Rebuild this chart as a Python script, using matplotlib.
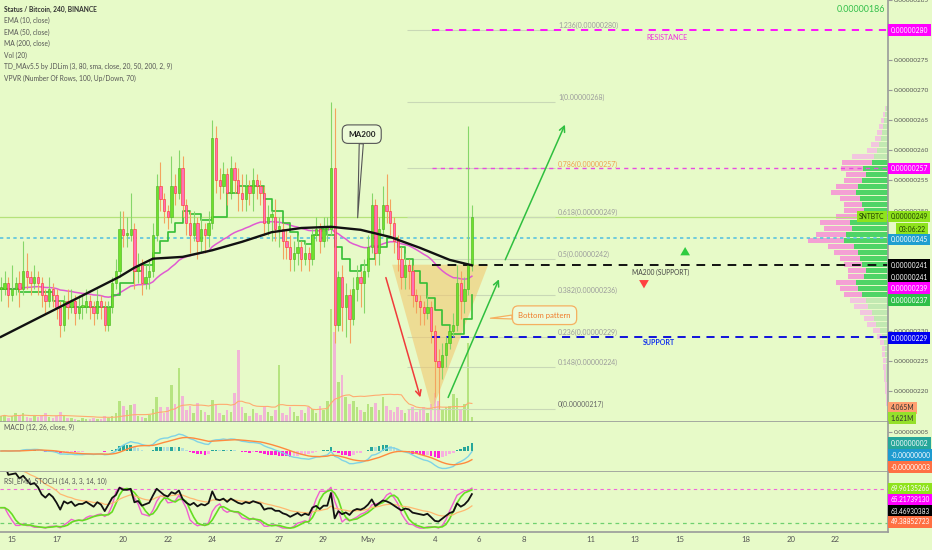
import numpy as np
import pandas as pd
import matplotlib
matplotlib.use("Agg")
import matplotlib.pyplot as plt
from matplotlib.patches import Polygon

plt.rcParams['font.family'] = ['Lato', 'DejaVu Sans']

# ---------- data (prices in satoshi, 4h bars) ----------
start = pd.Timestamp("2019-04-14 12:00")

closes = [237, 238, 236, 237, 238, 237, 240, 239, 238, 239,
          238, 236, 235, 237, 236, 234, 231, 235, 234, 235,
          233, 234, 234, 235, 234, 233, 235, 234, 231, 234,
          238, 240, 247, 246, 246, 247, 240, 241, 238, 239,
          240, 246, 254, 252, 250, 249, 254, 253, 257, 251,
          248, 246, 248, 245, 247, 246, 248, 262, 255, 254,
          256, 253, 257, 255, 253, 252, 254, 253, 255, 254,
          253, 248, 249, 249, 247, 247, 245, 244, 242, 243,
          244, 242, 243, 242, 246, 247, 245, 247, 247, 257,
          231, 239, 234, 236, 232, 237, 239, 238, 240, 244,
          251, 243, 247, 251, 250, 248, 245, 242, 239, 241,
          240, 236, 235, 234, 233, 234, 230, 225, 224, 226,
          228, 230, 231, 238, 235, 237, 241, 249]

highs = [239, 240, 239, 241, 239, 240, 245, 243, 240, 241,
         240, 239, 237, 239, 238, 237, 235, 236, 237, 237,
         236, 236, 236, 237, 236, 235, 237, 236, 235, 235,
         239, 242, 250, 250, 249, 253, 248, 243, 242, 241,
         242, 248, 256, 258, 253, 251, 259, 256, 260, 259,
         252, 250, 250, 249, 249, 248, 250, 265, 264, 257,
         258, 257, 259, 258, 257, 256, 256, 255, 257, 256,
         255, 254, 251, 250, 252, 249, 248, 247, 246, 245,
         246, 245, 245, 244, 247, 249, 248, 249, 249, 268,
         267, 240, 241, 238, 237, 239, 241, 240, 242, 246,
         253, 252, 249, 254, 256, 252, 249, 246, 244, 243,
         242, 241, 237, 236, 235, 236, 235, 231, 227, 228,
         229, 231, 233, 241, 240, 239, 264, 251]

lows = [235, 236, 234, 235, 236, 234, 236, 237, 236, 237,
        236, 234, 233, 234, 234, 232, 229, 230, 232, 233,
        231, 232, 232, 233, 232, 231, 232, 232, 230, 230,
        233, 237, 239, 244, 244, 245, 237, 238, 236, 237,
        237, 239, 245, 250, 248, 247, 248, 251, 252, 249,
        246, 243, 245, 242, 243, 243, 244, 247, 253, 252,
        253, 251, 252, 253, 250, 250, 250, 251, 250, 252,
        251, 246, 246, 245, 245, 244, 242, 242, 240, 240,
        241, 240, 241, 240, 241, 245, 243, 244, 245, 246,
        228, 230, 230, 229, 228, 231, 235, 234, 233, 239,
        243, 241, 241, 246, 248, 246, 243, 240, 237, 237,
        237, 234, 233, 231, 231, 232, 228, 219, 217, 222,
        224, 227, 229, 230, 232, 233, 236, 240]

# volume in millions
volumes = [2.0, 2.5, 1.5, 2.0, 3.0, 2.2, 3.2, 1.8, 1.5, 2.4,
           1.8, 2.0, 3.0, 1.6, 1.4, 2.2, 3.4, 2.0, 1.2, 1.5,
           1.0, 0.8, 1.2, 0.9, 1.1, 1.3, 1.0, 0.9, 2.0, 1.4,
           2.2, 3.0, 7.0, 5.5, 4.0, 5.8, 6.0, 2.0, 1.8, 1.5,
           2.5, 4.5, 8.5, 5.0, 3.0, 5.2, 12.5, 6.0, 18.5, 9.0,
           4.0, 5.5, 3.0, 6.5, 4.0, 3.5, 2.5, 7.5, 6.0, 3.0,
           2.5, 4.0, 3.5, 10.0, 24.5, 5.0, 3.0, 2.0, 4.5, 3.0,
           2.5, 5.0, 3.5, 2.0, 4.0, 19.5, 3.0, 2.5, 5.0, 3.5,
           2.0, 4.0, 3.0, 5.0, 4.5, 3.0, 5.5, 4.0, 7.0, 38.5,
           30.5, 13.5, 16.0, 8.5, 6.0, 7.0, 5.0, 4.0, 3.5, 6.0,
           5.0, 6.5, 4.0, 8.5, 5.5, 4.0, 3.5, 5.0, 4.0, 3.0,
           4.5, 5.0, 3.5, 4.0, 5.0, 3.0, 6.0, 10.0, 7.0, 4.0,
           5.0, 5.5, 9.5, 8.0, 4.5, 6.0, 27.0, 1.6]

# MA200 (bar index, value)
ma200_bars = [0, 8, 16, 24, 32, 36, 41, 49, 57, 65, 73, 81, 89, 97, 105, 113, 121, 127]
ma200_vals = [229, 231.5, 234, 236.5, 239, 240.5, 242, 242.3, 243.4, 244.8,
              246.4, 247.1, 247.3, 246.8, 245.6, 243.8, 241.8, 240.9]

# TD_MA stepped line (bar index, value)
td_bars = [0, 5, 14, 17, 30, 32, 36, 38, 41, 43, 45, 47, 49, 51, 54, 57, 61, 64,
           71, 73, 76, 78, 80, 82, 84, 86, 88, 90, 92, 94, 97, 99, 101, 104, 107,
           109, 111, 113, 115, 117, 119, 121, 125, 127]
td_vals = [237, 236.5, 235, 234, 236, 238, 240, 241, 243, 245, 246.5, 248, 250,
           249.5, 248.5, 249, 253, 254, 252, 250, 248, 246.5, 245, 244.5, 246,
           247, 246, 244, 242, 240, 241, 242, 244, 245.5, 244, 242, 240, 238,
           235.5, 233.5, 231, 229.5, 232, 236]

# fibonacci retracement
fib_levels = ["1.236", "1", "0.786", "0.618", "0.5", "0.382", "0.236", "0.148", "0"]
fib_prices = [280, 268, 257, 249, 242, 236, 229, 224, 217]

# volume profile rows
vp_price = list(range(267, 217, -1))
vp_up = [2, 3, 4, 5, 6, 7, 9, 11, 14, 16, 25, 22, 26, 30, 32, 28, 26, 24, 30, 38,
         36, 42, 44, 34, 30, 28, 26, 22, 24, 32, 30, 26, 22, 20, 16, 14, 12, 8, 6, 4,
         3, 3, 2, 2, 2, 2, 1, 1, 1, 1]
vp_down = [1, 2, 3, 4, 5, 6, 8, 10, 22, 30, 22, 20, 18, 22, 25, 20, 18, 20, 22, 30,
           28, 30, 36, 26, 24, 20, 18, 18, 16, 20, 18, 18, 16, 14, 12, 10, 9, 7, 5, 4,
           3, 3, 3, 3, 2, 2, 2, 2, 1, 1]
va_low, va_high = 236, 258

tick_dates = ["2019-04-15", "2019-04-17", "2019-04-20", "2019-04-22", "2019-04-24",
              "2019-04-27", "2019-04-29", "2019-05-01", "2019-05-04", "2019-05-06",
              "2019-05-08", "2019-05-11", "2019-05-13", "2019-05-15", "2019-05-18",
              "2019-05-20", "2019-05-22"]
tick_labels = ["15", "17", "20", "22", "24", "27", "29", "May", "4", "6", "8",
               "11", "13", "15", "18", "20", "22"]

legend_lines = ["Status / Bitcoin, 240, BINANCE", "EMA (10, close)", "EMA (50, close)",
                "MA (200, close)", "Vol (20)",
                "TD_MAv5.5 by JDLim (3, 80, sma, close, 20, 50, 200, 2, 9)",
                "VPVR (Number Of Rows, 100, Up/Down, 70)"]

# ---------- derived series ----------
BG = '#e7fac8'
x = np.arange(len(closes))
c = np.array(closes, float)
o = np.array([closes[0]] + closes[:-1], float)
h = np.array(highs, float)
l = np.array(lows, float)
cs = pd.Series(c)

ema50 = cs.ewm(span=50, adjust=False).mean()
vol = pd.Series(volumes)
vol_ma = vol.rolling(20, min_periods=1).mean()

ema12 = cs.ewm(span=12, adjust=False).mean()
ema26 = cs.ewm(span=26, adjust=False).mean()
macd = ema12 - ema26
signal = macd.ewm(span=9, adjust=False).mean()
hist = macd - signal
prev = hist.shift(1).fillna(0)
hist_colors = np.where(hist >= 0,
                       np.where(hist >= prev, '#26a69a', '#b2dfdb'),
                       np.where(hist < prev, '#ff21d8', '#f7b0e0'))

delta = cs.diff()
gain = delta.clip(lower=0).ewm(alpha=1/14, adjust=False).mean()
loss = (-delta.clip(upper=0)).ewm(alpha=1/14, adjust=False).mean()
rsi = 100 - 100 / (1 + gain / loss)
rsi_ema = rsi.ewm(span=10, adjust=False).mean()
lo = rsi.rolling(14, min_periods=1).min()
hi = rsi.rolling(14, min_periods=1).max()
stoch = (100 * (rsi - lo) / (hi - lo)).replace([np.inf, -np.inf], np.nan).fillna(50)
k = stoch.rolling(3, min_periods=1).mean()
d = k.rolling(3, min_periods=1).mean()

pos = [(pd.Timestamp(t) - start) / pd.Timedelta(hours=4) for t in tick_dates]

# ---------- figure ----------
W, H = 932, 550
fig = plt.figure(figsize=(W / 100, H / 100), dpi=100, facecolor=BG)
R = 888 / W
ax = fig.add_axes([0, 1 - 422 / H, R, 422 / H])
axm = fig.add_axes([0, 1 - 472 / H, R, 50 / H], sharex=ax)
axr = fig.add_axes([0, 1 - 532 / H, R, 60 / H], sharex=ax)

XMAX = 239.2
ax.set_xlim(-0.24, XMAX)
ax.set_ylim(214.85, 285.0)
ax.patch.set_visible(False)

# volume (behind candles)
axv = ax.twinx()
axv.set_zorder(ax.get_zorder() - 1)
axv.set_ylim(0, 143.5)
axv.axis('off')
up = c >= o
axv.bar(x[up], vol[up], width=0.7, color='#b6e480')
axv.bar(x[~up], vol[~up], width=0.7, color='#f1b5d6')
axv.plot(x, vol_ma, color='#ffab70', lw=0.8)

# volume profile
axp = ax.twiny()
axp.set_zorder(ax.get_zorder() - 1)
axp.set_xlim(888, 0)
axp.axis('off')
for p, u, dn in zip(vp_price, vp_up, vp_down):
    inside = va_low <= p <= va_high
    axp.barh(p, u, left=0, height=0.85, color='#4fd466' if inside else '#c2e9b2')
    axp.barh(p, dn, left=u, height=0.85, color='#f4a0d4' if inside else '#f2c6df')

# panel styling (after twins, which reset tick sides)
for a in (axm, axr):
    a.set_facecolor(BG)
for a in (ax, axm, axr):
    for s in ('left', 'top'):
        a.spines[s].set_visible(False)
    for s in ('right', 'bottom'):
        a.spines[s].set_color('#9a9a9a')
        a.spines[s].set_linewidth(1.2)
    a.yaxis.tick_right()
    a.tick_params(axis='y', left=False, labelleft=False, right=True, labelright=True,
                  labelsize=4.6, colors='#9a9a9a', labelcolor='#555555', length=3, pad=1.5)
    a.tick_params(axis='x', length=0)
ax.tick_params(labelbottom=False)
axm.tick_params(labelbottom=False)

# full-width lines
ax.axhline(249, color='#b5e27a', lw=0.9, zorder=1)
ax.axhline(245.5, color='#5bc3e0', lw=1.2, ls=(0, (2, 2)), zorder=1)

# fibonacci
ax.hlines(fib_prices, 109.5, 149.4, color='#c9d8b6', lw=0.8, zorder=1)
for lvl, p in zip(fib_levels, fib_prices):
    col = '#f0a050' if lvl == "0.786" else ('#666666' if lvl == "0" else '#9c9c9c')
    ax.text(150.2, p + 0.15, f"{lvl}({p / 1e8:.8f})", fontsize=5.0, color=col,
            va='bottom', ha='left')

# bottom-pattern triangle
ax.add_patch(Polygon([(105.5, 241), (131.4, 241), (116.3, 216.8)],
                     closed=True, fc='#f3c46a', alpha=0.55, ec='none', zorder=1))

# moving averages
ax.plot(x, ema50, color='#e05ad2', lw=1.1, zorder=2)
ax.plot(td_bars, td_vals, color='#35bf35', lw=1.2, drawstyle='steps-post', zorder=2)

# candles
wick_c = np.where(up, '#86d66a', '#f3a35e')
ax.vlines(x, l, h, colors=wick_c, lw=0.8, zorder=3)
body_b = np.minimum(o, c)
body_h = np.maximum(np.abs(c - o), 0.35)
ax.bar(x[up], body_h[up], bottom=body_b[up], width=0.62, color='#6fe02c',
       edgecolor='#43b51a', lw=0.4, zorder=4)
ax.bar(x[~up], body_h[~up], bottom=body_b[~up], width=0.62, color='#ff6fb8',
       edgecolor='#ff2d2d', lw=0.4, zorder=4)

ax.plot(ma200_bars, ma200_vals, color='#111111', lw=1.7, zorder=5)

# horizontal levels
ax.hlines(280, 116.3, XMAX, colors='#ff00ff', lw=1.3, linestyles=(0, (4, 3.5)), zorder=2)
ax.hlines(257, 116.3, XMAX, colors='#e84ce0', lw=1.0, linestyles=(0, (3, 3)), zorder=2)
ax.hlines(241, 116.3, XMAX, colors='#111111', lw=1.4, linestyles=(0, (4.5, 3.5)), zorder=2)
ax.hlines(229, 116.3, XMAX, colors='#0000dd', lw=1.3, linestyles=(0, (4.5, 3.5)), zorder=2)
ax.text(179.6, 278.8, "RESISTANCE", color='#ee33dd', fontsize=5.1, ha='center', va='center')
ax.text(177.8, 239.7, "MA200 (SUPPORT)", color='#444444', fontsize=4.8, ha='center', va='center')
ax.text(177.5, 228.0, "SUPPORT", color='#1030ee', fontsize=5.0, ha='center', va='center',
        fontweight='bold')

# arrows
ax.annotate('', xy=(113.3, 218.5), xytext=(103.6, 239.3),
            arrowprops=dict(arrowstyle='->', color='#f03a3a', lw=1.1))
ax.annotate('', xy=(134.6, 239.0), xytext=(120.3, 218.5),
            arrowprops=dict(arrowstyle='->', color='#2fbf3f', lw=1.1))
ax.annotate('', xy=(152.4, 264.7), xytext=(135.7, 241.4),
            arrowprops=dict(arrowstyle='->', color='#2fbf3f', lw=1.1))
ax.annotate('', xy=(184.5, 244.4), xytext=(184.5, 242.3),
            arrowprops=dict(arrowstyle='simple,head_width=0.7,head_length=0.6,tail_width=0.3',
                            color='#2ecc40', lw=0))
ax.annotate('', xy=(173.4, 236.6), xytext=(173.4, 238.7),
            arrowprops=dict(arrowstyle='simple,head_width=0.7,head_length=0.6,tail_width=0.3',
                            color='#ff4040', lw=0))

# callouts
ax.annotate("MA200", xy=(96.2, 248.8), xytext=(97.3, 262.7), ha='center', va='center',
            fontsize=5.9, fontweight='bold', color='#222222', zorder=6,
            bbox=dict(boxstyle='round,pad=0.7', fc='#edfbd8', ec='#555555', lw=0.8),
            arrowprops=dict(arrowstyle='wedge,tail_width=0.5', fc='#edfbd8', ec='#555555',
                            lw=0.8, shrinkA=0, shrinkB=0))
ax.annotate("Bottom pattern", xy=(132.0, 232.1), xytext=(146.6, 232.6), ha='center',
            va='center', fontsize=5.6, color='#f07a2a', zorder=6,
            bbox=dict(boxstyle='round,pad=0.75', fc='#edfbd8', ec='#f5b060', lw=0.9),
            arrowprops=dict(arrowstyle='wedge,tail_width=0.5', fc='#edfbd8', ec='#f5b060',
                            lw=0.9, shrinkA=0, shrinkB=0))

# price axis
yt = np.arange(220, 286, 5)
ax.set_yticks(yt)
ax.set_yticklabels([f"{v / 1e8:.8f}" for v in yt])


def tag(a, y, text, bg, fg='white', xa=1.003, ha='left', size=4.9):
    a.text(xa, y, text, transform=a.get_yaxis_transform(), fontsize=size, color=fg,
           va='center', ha=ha, clip_on=False, zorder=10,
           bbox=dict(boxstyle='square,pad=0.35', fc=bg, ec='none'))


tag(ax, 280, "0.00000280", '#ff00ff')
tag(ax, 257, "0.00000257", '#ff00ff')
tag(ax, 249, "0.00000249", '#8fe31c', fg='#1e3d00')
tag(ax, 249, "SNTBTC", '#8fe31c', fg='#1e3d00', xa=0.996, ha='right')
tag(ax, 246.9, "03:06:22", '#8fe31c', fg='#1e3d00', xa=1.012)
tag(ax, 245.2, "0.00000245", '#1e9fd0')
tag(ax, 240.9, "0.00000241", '#000000')
tag(ax, 238.95, "0.00000241", '#000000')
tag(ax, 237.1, "0.00000239", '#ff00ff')
tag(ax, 235.1, "0.00000237", '#2fbf48')
tag(ax, 228.8, "0.00000229", '#0000ee')
tag(ax, 217.2, "4.065M", '#ffa070', fg='#333333')
tag(ax, 215.5, "1.621M", '#95e02a', fg='#333333')

# MACD panel
axm.set_ylim(-5.5, 7.6)
axm.bar(x, hist, width=0.7, color=hist_colors)
axm.plot(x, macd, color='#7fd3e6', lw=1.0)
axm.plot(x, signal, color='#ff8a3d', lw=1.0)
axm.set_yticks([5])
axm.set_yticklabels(["0.00000005"])
tag(axm, 2.07, "0.00000002", '#26a69a')
tag(axm, -1.08, "-0.00000000", '#1e9bd0')
tag(axm, -4.24, "-0.00000003", '#ff7043')
axm.text(0.004, 0.84, "MACD (12, 26, close, 9)", transform=axm.transAxes, fontsize=4.9,
         color='#555555')

# RSI panel
axr.set_ylim(19.4, 90)
axr.axhline(70, color='#f06ad8', lw=0.8, ls=(0, (3, 3)))
axr.axhline(30, color='#6fd16f', lw=0.9, ls=(0, (3, 3)))
axr.plot(x, 24 + k * 0.48, color='#f060d0', lw=1.0)
axr.plot(x, 24 + d * 0.48, color='#66dd22', lw=1.2)
axr.plot(x, rsi_ema, color='#ffb870', lw=0.9)
axr.plot(x, rsi, color='#111111', lw=1.3)
axr.set_yticks([])
tag(axr, 70, "69.96135266", '#8fe31c', size=4.7)
tag(axr, 57.1, "65.21739130", '#ff00ff', size=4.7)
tag(axr, 44.1, "63.46930383", '#000000', size=4.7)
tag(axr, 31.2, "49.38852723", '#ff7043', size=4.7)
axr.text(0.004, 0.80, "RSI_EMA_STOCH (14, 3, 3, 14, 10)", transform=axr.transAxes,
         fontsize=4.9, color='#555555')

axr.set_xticks(pos)
axr.set_xticklabels(tick_labels)
axr.tick_params(axis='x', labelsize=5.6, labelcolor='#555555', pad=3)

# legend / header
for i, t in enumerate(legend_lines):
    fig.text(4 / W, 1 - (9 + 11.5 * i) / H, t, fontsize=4.8, va='center',
             color='#333333' if i == 0 else '#555555',
             fontweight='bold' if i == 0 else 'normal')
fig.text(885 / W, 1 - 9 / H, "0.00000186", color='#33c04a', fontsize=6.4,
         ha='right', va='center')

fig.savefig("out.png", dpi=100, facecolor=BG)
plt.close(fig)
